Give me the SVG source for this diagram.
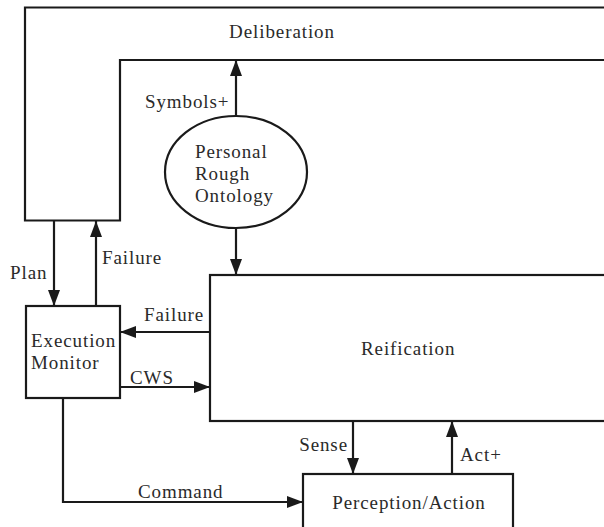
<svg xmlns="http://www.w3.org/2000/svg" width="604" height="527" viewBox="0 0 604 527">
<style>
.box{fill:#fff;stroke:#1a1a1a;stroke-width:2.2}
.ln{fill:none;stroke:#1a1a1a;stroke-width:2.2}
.t{font-family:'Liberation Serif','DejaVu Serif','Times New Roman',serif;font-size:19px;letter-spacing:0.9px;fill:#2a2a2a}
</style>
<defs>
<marker id="ah" viewBox="0 0 16 12" refX="16" refY="6" markerWidth="16" markerHeight="12" markerUnits="userSpaceOnUse" orient="auto">
<path d="M0,0 L16,6 L0,12 Z" fill="#1a1a1a"/>
</marker>
</defs>
<rect width="604" height="527" fill="#fff"/>
<g id="deliberation">
<path class="box" d="M606,7.5 L25,7.5 L25,220.5 L120,220.5 L120,60 L606,60"/>
<text class="t" x="282" y="38" text-anchor="middle">Deliberation</text>
</g>
<g id="ontology">
<ellipse class="box" cx="236" cy="172" rx="71" ry="56"/>
<text class="t" x="195" y="158">Personal</text>
<text class="t" x="195" y="180">Rough</text>
<text class="t" x="195" y="202">Ontology</text>
</g>
<g id="reification">
<rect class="box" x="210" y="275" width="400" height="146"/>
<text class="t" x="361" y="355">Reification</text>
</g>
<g id="monitor">
<rect class="box" x="26" y="306" width="94" height="92"/>
<text class="t" x="31" y="347">Execution</text>
<text class="t" x="31" y="369">Monitor</text>
</g>
<g id="perception">
<rect class="box" x="303" y="474" width="210" height="60"/>
<text class="t" x="409" y="509" text-anchor="middle">Perception/Action</text>
</g>
<g id="connectors">
<line class="ln" x1="236" y1="116" x2="236" y2="60" marker-end="url(#ah)"/>
<line class="ln" x1="236" y1="228" x2="236" y2="275" marker-end="url(#ah)"/>
<line class="ln" x1="54" y1="221" x2="54" y2="306" marker-end="url(#ah)"/>
<line class="ln" x1="96" y1="306" x2="96" y2="221" marker-end="url(#ah)"/>
<line class="ln" x1="210" y1="332" x2="120" y2="332" marker-end="url(#ah)"/>
<line class="ln" x1="120" y1="387" x2="210" y2="387" marker-end="url(#ah)"/>
<path class="ln" d="M63,398 L63,502 L303,502" marker-end="url(#ah)"/>
<line class="ln" x1="353" y1="421" x2="353" y2="474" marker-end="url(#ah)"/>
<line class="ln" x1="452" y1="474" x2="452" y2="421" marker-end="url(#ah)"/>
<text class="t" x="145" y="108">Symbols+</text>
<text class="t" x="10" y="279">Plan</text>
<text class="t" x="102" y="264">Failure</text>
<text class="t" x="144" y="321">Failure</text>
<text class="t" x="130" y="384">CWS</text>
<text class="t" x="138" y="498">Command</text>
<text class="t" x="348" y="451" text-anchor="end">Sense</text>
<text class="t" x="460" y="461">Act+</text>
</g>
</svg>
